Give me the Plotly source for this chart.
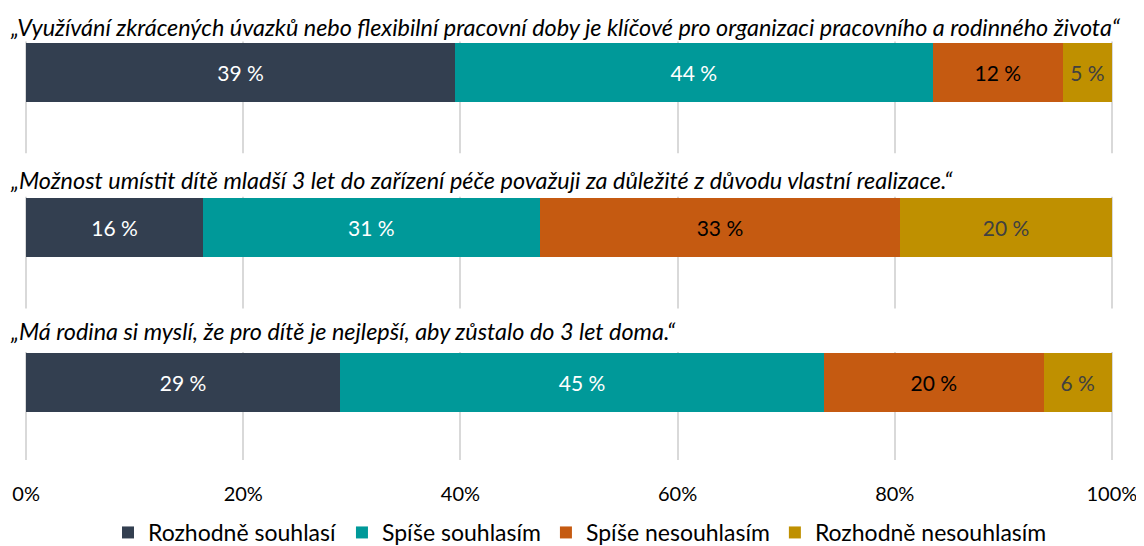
import plotly.graph_objects as go

questions = [
    "„Využívání zkrácených úvazků nebo flexibilní pracovní doby je klíčové pro organizaci pracovního a rodinného života“",
    "„Možnost umístit dítě mladší 3 let do zařízení péče považuji za důležité z důvodu vlastní realizace.“",
    "„Má rodina si myslí, že pro dítě je nejlepší, aby zůstalo do 3 let doma.“",
]
series_names = ["Rozhodně souhlasí", "Spíše souhlasím", "Spíše nesouhlasím", "Rozhodně nesouhlasím"]
rozhodne_souhlasi = [39.5, 16.3, 28.9]
spise_souhlasim = [44.0, 31.0, 44.6]
spise_nesouhlasim = [12.0, 33.2, 20.2]
rozhodne_nesouhlasim = [4.5, 19.5, 6.3]
labels = [
    ["39 %", "16 %", "29 %"],
    ["44 %", "31 %", "45 %"],
    ["12 %", "33 %", "20 %"],
    ["5 %", "20 %", "6 %"],
]
x_ticks = [0, 20, 40, 60, 80, 100]
x_tick_labels = ["0%", "20%", "40%", "60%", "80%", "100%"]

colors = ["#333F50", "#009999", "#C55A11", "#BF9000"]
text_colors = ["#FFFFFF", "#FFFFFF", "#000000", "#404040"]
FONT = "Lato"

rows = [0, 1, 2]
values = [rozhodne_souhlasi, spise_souhlasim, spise_nesouhlasim, rozhodne_nesouhlasim]
title_offsets = [-0.295, -0.31, -0.335]

fig = go.Figure()
for name, vals, lab, col, tcol in zip(series_names, values, labels, colors, text_colors):
    fig.add_trace(go.Bar(
        x=vals, y=rows, orientation="h", name=name,
        marker=dict(color=col, line=dict(width=0)),
        width=0.38,
        text=lab, textposition="inside", insidetextanchor="middle",
        constraintext="none",
        textangle=0, textfont=dict(family=FONT, size=21, color=tcol),
        hoverinfo="skip",
    ))

shapes = []
annotations = []
for i, q, off in zip(rows, questions, title_offsets):
    shapes.append(dict(type="rect", xref="paper", x0=-0.05, x1=1.05,
                       yref="y", y0=i - 0.48, y1=i - 0.2,
                       fillcolor="white", line=dict(width=0), layer="above"))
    annotations.append(dict(text=q, xref="paper", x=-0.0156, xanchor="left",
                            yref="y", y=i + off, yanchor="middle", showarrow=False,
                            font=dict(family=FONT, size=23.4, color="#000000", style="italic")))

fig.update_layout(
    width=1144, height=546,
    margin=dict(l=17, r=39, t=0, b=94),
    barmode="stack",
    plot_bgcolor="white", paper_bgcolor="white",
    font=dict(family=FONT, size=21, color="#000000"),
    shapes=shapes, annotations=annotations,
    showlegend=True,
    legend=dict(orientation="h", x=0.5, xanchor="center", xref="container",
                y=-0.045, yanchor="bottom", yref="container",
                font=dict(family=FONT, size=23, color="#000000"),
                traceorder="normal", itemwidth=30),
)
fig.update_xaxes(range=[-0.1, 100.1], tickvals=x_ticks, ticktext=x_tick_labels,
                 showgrid=True, gridcolor="#D9D9D9", gridwidth=1.5, zeroline=False,
                 showline=False, ticks="", ticklabelstandoff=20,
                 tickfont=dict(family=FONT, size=20, color="#000000"), fixedrange=True)
fig.update_yaxes(range=[2.496, -0.415], showticklabels=False, showgrid=False,
                 zeroline=False, showline=False, fixedrange=True)

fig.write_html("out.html")
